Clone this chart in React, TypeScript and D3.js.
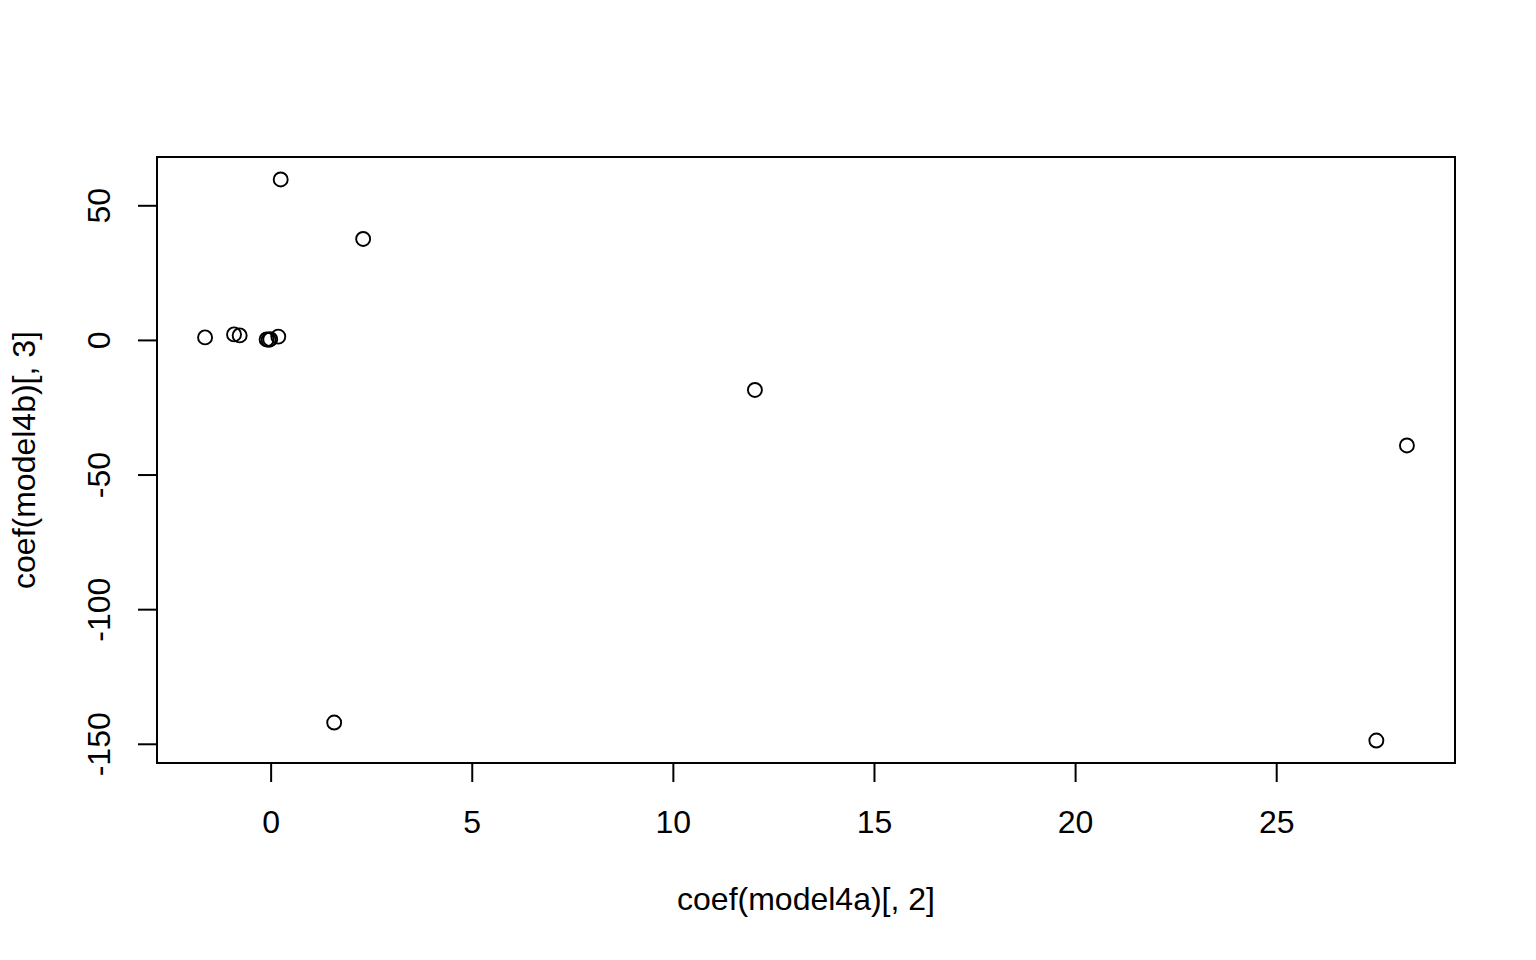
import React, { useEffect, useRef } from 'react';
import * as d3 from 'd3';

// coef(model4a)[, 2] vs coef(model4b)[, 3]
const coefA = [-1.63, -0.91, -0.77, -0.1, -0.05, -0.01, 0.19, 0.25, 2.3, 1.58, 12.04, 28.25, 27.49];
const coefB = [0.93, 2.04, 1.67, 0.19, 0.0, 0.26, 1.23, 59.6, 37.5, -142.1, -18.6, -39.2, -148.8];

const xTicks = [0, 5, 10, 15, 20, 25];
const yTicks = [-150, -100, -50, 0, 50];

const xLabel = 'coef(model4a)[, 2]';
const yLabel = 'coef(model4b)[, 3]';

const App = () => {
  const ref = useRef<SVGSVGElement>(null);

  useEffect(() => {
    const svg = d3.select(ref.current);
    svg.selectAll('*').remove();

    const width = 1536;
    const height = 960;
    const box = { left: 157, right: 1455, top: 157, bottom: 763 };
    const font = '"Liberation Sans", Arial, Helvetica, sans-serif';
    const fs = 32;

    // R style 4% padding on the data range
    const pad = (ext: [number, number]) => {
      const r = ext[1] - ext[0];
      return [ext[0] - 0.04 * r, ext[1] + 0.04 * r];
    };
    const xExt = d3.extent(coefA) as [number, number];
    const yExt = d3.extent(coefB) as [number, number];

    const x = d3.scaleLinear().domain(pad(xExt)).range([box.left, box.right]);
    const y = d3.scaleLinear().domain(pad(yExt)).range([box.bottom, box.top]);

    svg.append('rect')
      .attr('width', width)
      .attr('height', height)
      .attr('fill', '#ffffff');

    // plot frame
    svg.append('rect')
      .attr('x', box.left)
      .attr('y', box.top)
      .attr('width', box.right - box.left)
      .attr('height', box.bottom - box.top)
      .attr('fill', 'none')
      .attr('stroke', '#000')
      .attr('stroke-width', 2);

    // x axis
    const xAxis = d3.axisBottom(x)
      .tickValues(xTicks)
      .tickSize(19)
      .tickPadding(0)
      .tickFormat(d => String(d));

    const gx = svg.append('g')
      .attr('transform', `translate(0, ${box.bottom})`)
      .call(xAxis);
    gx.select('.domain').remove();
    gx.selectAll('line').attr('stroke', '#000').attr('stroke-width', 2);
    gx.selectAll('text')
      .attr('y', 70)
      .attr('dy', null)
      .style('font-family', font)
      .style('font-size', `${fs}px`)
      .style('fill', '#000');

    // y axis
    const yAxis = d3.axisLeft(y)
      .tickValues(yTicks)
      .tickSize(19)
      .tickFormat(d => String(d));

    const gy = svg.append('g')
      .attr('transform', `translate(${box.left}, 0)`)
      .call(yAxis);
    gy.select('.domain').remove();
    gy.selectAll('line').attr('stroke', '#000').attr('stroke-width', 2);
    gy.selectAll('.tick text')
      .attr('x', null)
      .attr('dy', null)
      .attr('text-anchor', 'middle')
      .attr('transform', 'translate(-47, 0) rotate(-90)')
      .style('font-family', font)
      .style('font-size', `${fs}px`)
      .style('fill', '#000');

    // axis titles
    svg.append('text')
      .attr('x', (box.left + box.right) / 2)
      .attr('y', 910)
      .attr('text-anchor', 'middle')
      .style('font-family', font)
      .style('font-size', `${fs}px`)
      .text(xLabel);

    svg.append('text')
      .attr('transform', `translate(35, ${(box.top + box.bottom) / 2}) rotate(-90)`)
      .attr('text-anchor', 'middle')
      .style('font-family', font)
      .style('font-size', `${fs}px`)
      .text(yLabel);

    // open circles
    svg.append('g')
      .selectAll('circle')
      .data(coefA.map((a, i) => [a, coefB[i]]))
      .enter().append('circle')
        .attr('cx', d => x(d[0]))
        .attr('cy', d => y(d[1]))
        .attr('r', 7)
        .attr('fill', 'none')
        .attr('stroke', '#000')
        .attr('stroke-width', 1.9);
  }, []);

  return (
    <svg
      ref={ref}
      width={1536}
      height={960}
      style={{ position: 'absolute', left: 0, top: 0, display: 'block' }}
    ></svg>
  );
};

export default App;
